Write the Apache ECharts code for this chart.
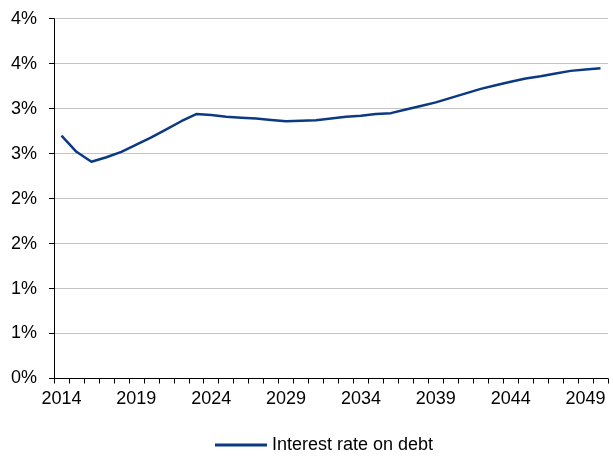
<!DOCTYPE html>
<html>
<head>
<meta charset="utf-8">
<script src="https://cdn.jsdelivr.net/npm/echarts@6/dist/echarts.min.js"></script>
<style>
  html, body { margin: 0; padding: 0; background: #fff; }
  #chart { width: 613px; height: 458px; }
</style>
</head>
<body>
<div id="chart"></div>
<script>
// Projected interest rate on debt, percent, 2014-2050
const years = [
  '2014','2015','2016','2017','2018','2019','2020','2021','2022','2023',
  '2024','2025','2026','2027','2028','2029','2030','2031','2032','2033',
  '2034','2035','2036','2037','2038','2039','2040','2041','2042','2043',
  '2044','2045','2046','2047','2048','2049','2050'
];
const interestRate = [
  2.70, 2.52, 2.41, 2.46, 2.52, 2.60, 2.68, 2.77, 2.86, 2.94,
  2.93, 2.91, 2.90, 2.89, 2.875, 2.86, 2.865, 2.87, 2.89, 2.91,
  2.92, 2.94, 2.95, 2.99, 3.03, 3.07, 3.12, 3.17, 3.22, 3.26,
  3.30, 3.335, 3.36, 3.39, 3.42, 3.435, 3.45
];
const seriesName = 'Interest rate on debt';

const chart = echarts.init(document.getElementById('chart'));
const font = 'Liberation Sans, Arial, sans-serif';

chart.setOption({
  animation: false,
  grid: { left: 54, right: 5, top: 18.7, bottom: 79.5, containLabel: false },
  legend: {
    top: 436,
    left: 215,
    padding: 0,
    data: [seriesName],
    icon: 'rect',
    itemWidth: 52,
    itemHeight: 3,
    textStyle: { fontFamily: font, fontSize: 18, color: '#000' }
  },
  xAxis: {
    type: 'category',
    data: years,
    boundaryGap: true,
    axisLine: { lineStyle: { color: '#000', width: 1 } },
    axisTick: { show: true, interval: 0, length: 5, lineStyle: { color: '#000' } },
    axisLabel: {
      interval: 4,
      margin: 12,
      fontFamily: font,
      fontSize: 18,
      color: '#000'
    },
    splitLine: { show: false }
  },
  yAxis: {
    type: 'value',
    min: 0,
    max: 4,
    interval: 0.5,
    axisLine: { show: true, lineStyle: { color: '#000', width: 1 } },
    axisTick: { show: true, length: 5, lineStyle: { color: '#000' } },
    axisLabel: {
      margin: 17,
      fontFamily: font,
      fontSize: 18,
      color: '#000',
      formatter: v => Math.round(v) + '%'
    },
    splitLine: { show: true, lineStyle: { color: '#c4c4c4', width: 1 } }
  },
  series: [{
    name: seriesName,
    type: 'line',
    data: interestRate,
    symbol: 'none',
    smooth: false,
    lineStyle: { color: '#0b3a82', width: 2.5 },
    itemStyle: { color: '#0b3a82' }
  }]
});
</script>
</body>
</html>
